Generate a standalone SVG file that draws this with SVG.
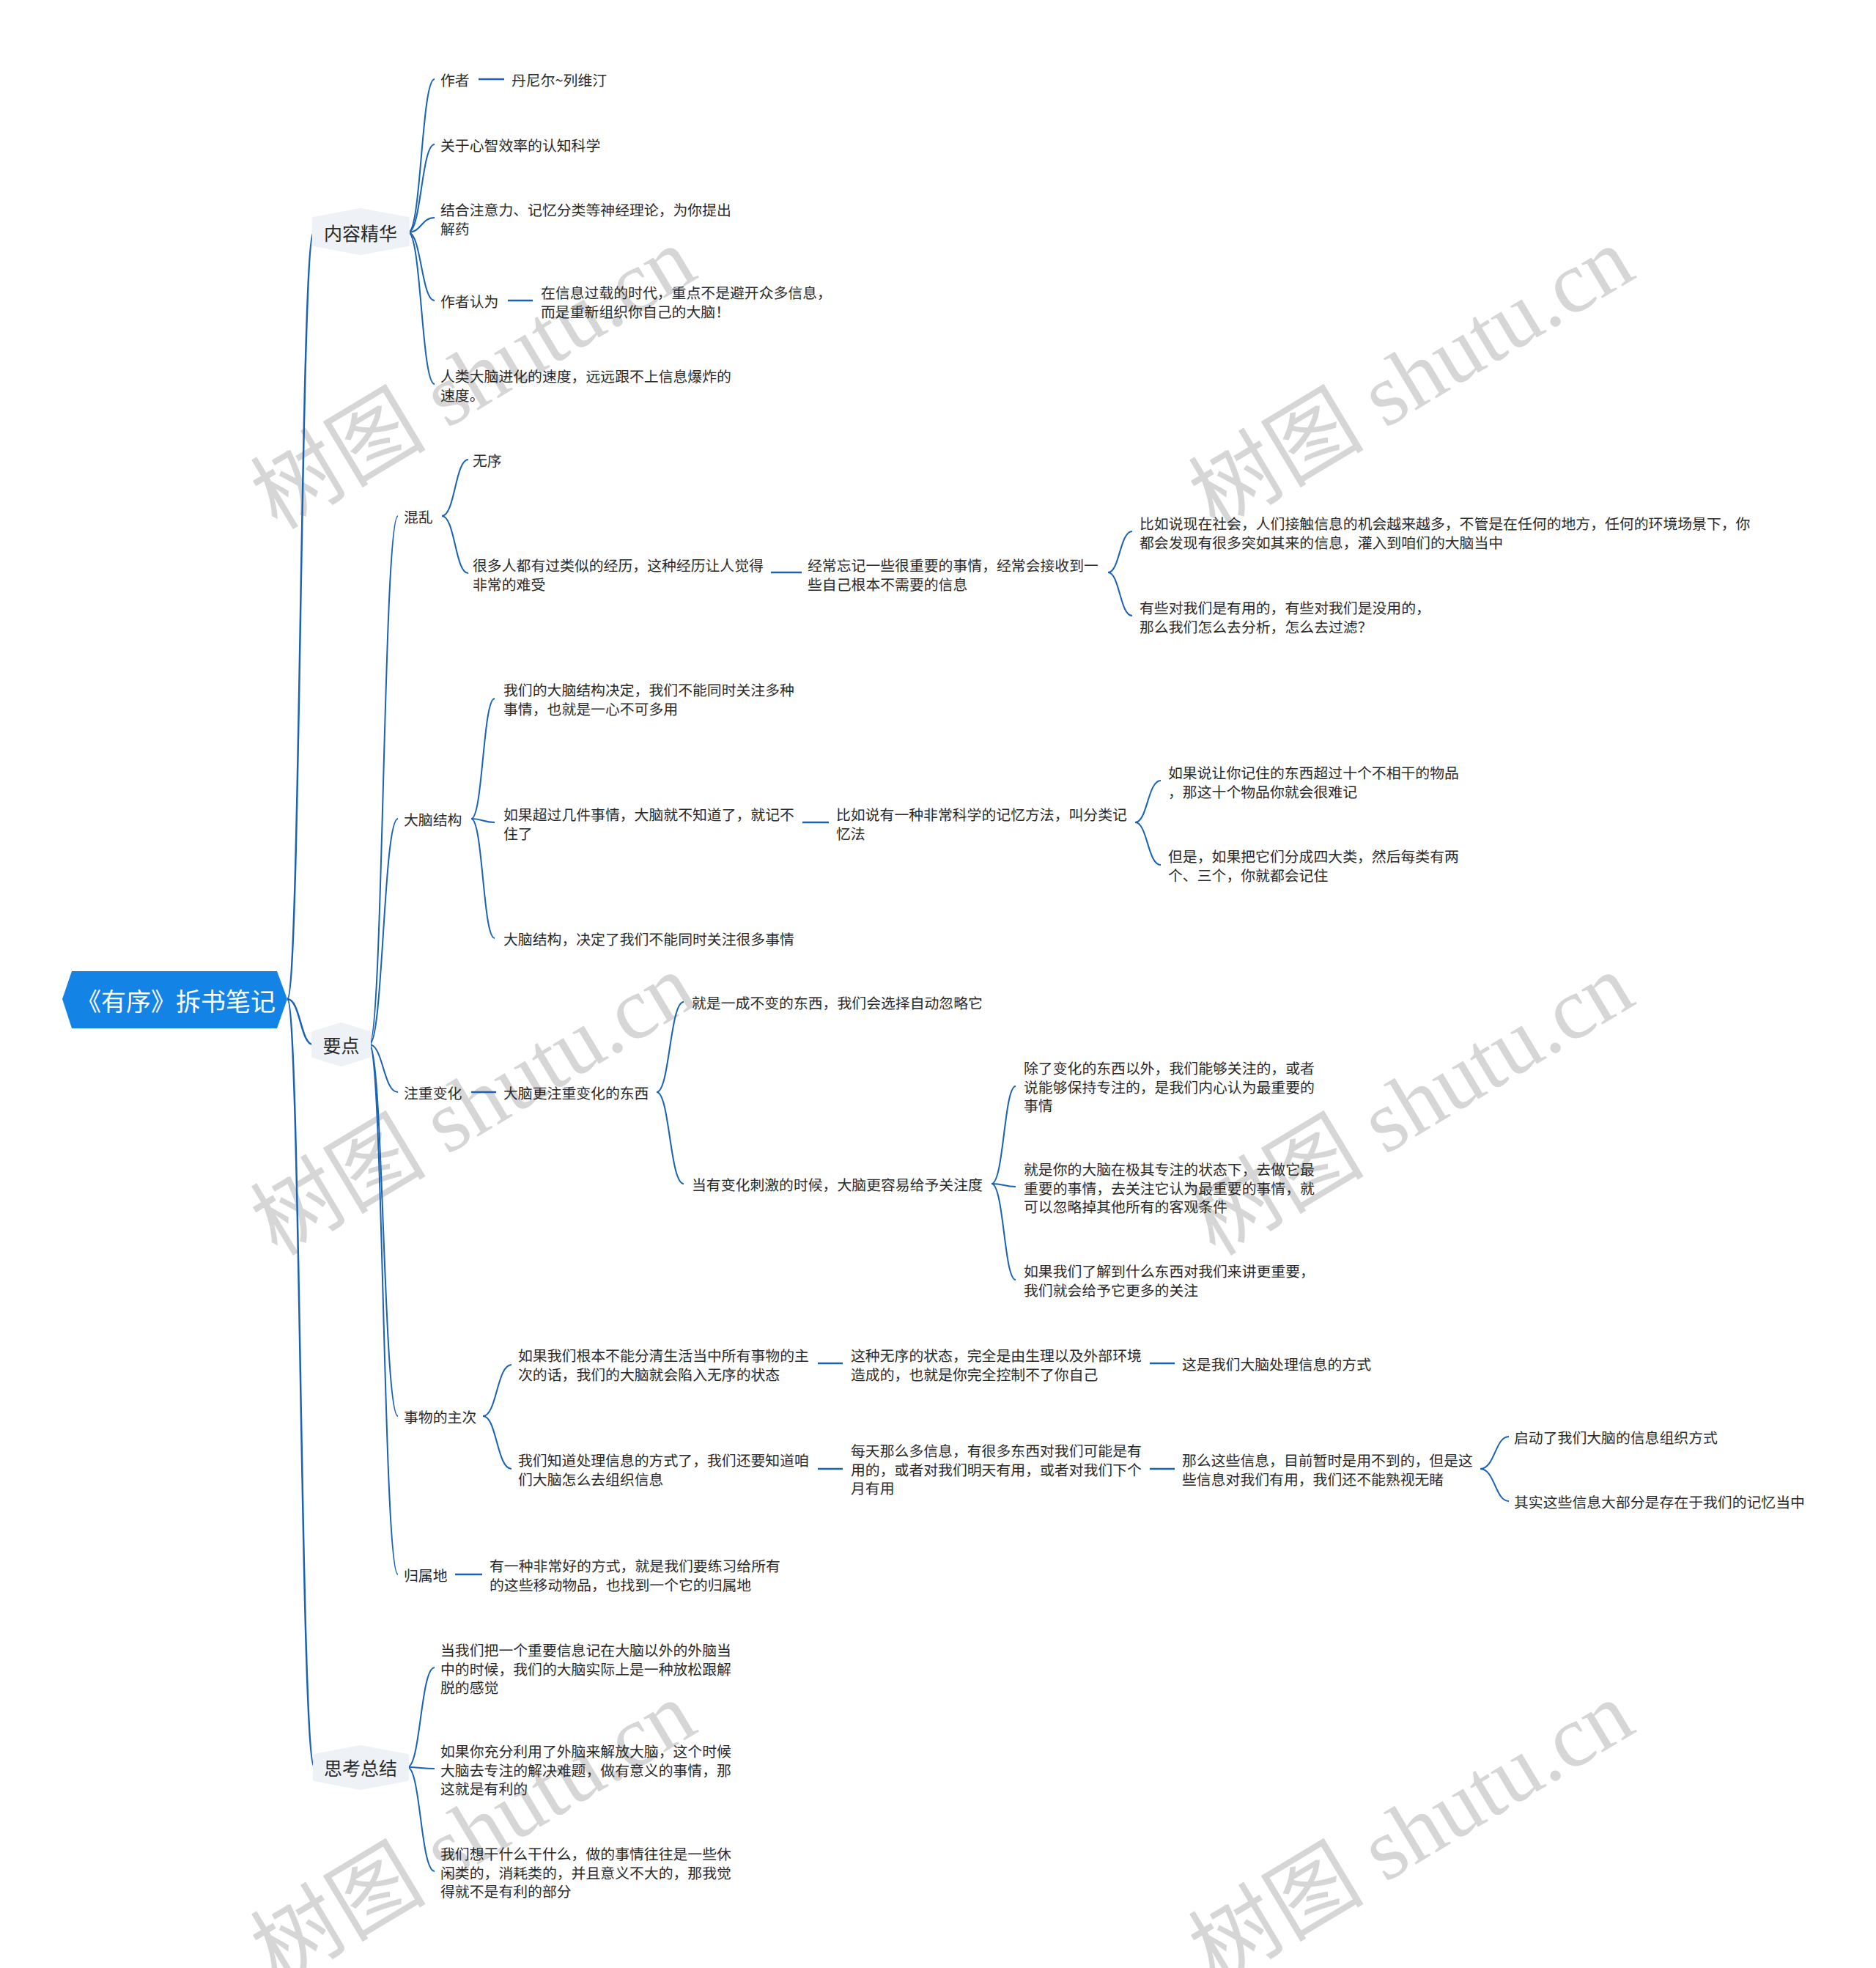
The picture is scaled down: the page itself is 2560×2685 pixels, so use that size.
<svg xmlns="http://www.w3.org/2000/svg" width="2560" height="2685" viewBox="0 0 2560 2685">
<style>
.t{font-family:"Noto Sans CJK SC","Noto Sans",sans-serif;font-size:19.85px;fill:#2a2a2a;dominant-baseline:central}
.m{font-family:"Noto Sans CJK SC","Noto Sans",sans-serif;font-size:25px;fill:#2a2a2a;dominant-baseline:central;text-anchor:middle}
.r{font-family:"Noto Sans CJK SC","Noto Sans",sans-serif;font-size:34px;fill:#ffffff;dominant-baseline:central;text-anchor:middle}
.hx{fill:#eef1f5;stroke:#eef1f5;stroke-width:4;stroke-linejoin:round}
.c{fill:none;stroke:#1a62b4;stroke-width:2}
.c0{fill:none;stroke:#1a62b4;stroke-width:2.5}
.h{fill:none;stroke:#1a62b4;stroke-width:2.5}
.wm{font-family:"Liberation Serif","Noto Sans CJK SC",serif;font-size:120px;fill:#c9c9c9;opacity:0.75}
</style>
<rect width="2560" height="2685" fill="#ffffff"/>
<g id="watermarks">
<text class="wm" text-anchor="middle" transform="translate(646,516) rotate(-31)" dominant-baseline="central">树图 shutu.cn</text>
<text class="wm" text-anchor="middle" transform="translate(1926,516) rotate(-31)" dominant-baseline="central">树图 shutu.cn</text>
<text class="wm" text-anchor="middle" transform="translate(646,1507) rotate(-31)" dominant-baseline="central">树图 shutu.cn</text>
<text class="wm" text-anchor="middle" transform="translate(1926,1507) rotate(-31)" dominant-baseline="central">树图 shutu.cn</text>
<text class="wm" text-anchor="middle" transform="translate(646,2500) rotate(-31)" dominant-baseline="central">树图 shutu.cn</text>
<text class="wm" text-anchor="middle" transform="translate(1926,2500) rotate(-31)" dominant-baseline="central">树图 shutu.cn</text>
</g>
<g id="connectors">
<path class="c0" d="M392 1363 C410 1363 410 317 428 317"/>
<path class="c0" d="M392 1363 C410 1363 410 1425 427 1425"/>
<path class="c0" d="M392 1363 C410 1363 410 2411 429 2411"/>
<path class="c" d="M557 317 C575 317 575 108 593 108"/>
<path class="c" d="M557 317 C575 317 575 197 593 197"/>
<path class="c" d="M557 317 C575 317 575 297 593 297"/>
<path class="c" d="M557 317 C575 317 575 410 593 410"/>
<path class="c" d="M557 317 C575 317 575 524 593 524"/>
<path class="c" d="M504 1425 C523 1425 523 704 543 704"/>
<path class="c" d="M504 1425 C523 1425 523 1117 543 1117"/>
<path class="c" d="M504 1425 C523 1425 523 1490 543 1490"/>
<path class="c" d="M504 1425 C523 1425 523 1932 543 1932"/>
<path class="c" d="M504 1425 C523 1425 523 2148 543 2148"/>
<path class="c" d="M556 2411 C574 2411 574 2275 593 2275"/>
<path class="c" d="M556 2411 C574 2411 574 2413 593 2413"/>
<path class="c" d="M556 2411 C574 2411 574 2553 593 2553"/>
<path class="c" d="M603 704 C621 704 621 627 639 627"/>
<path class="c" d="M603 704 C621 704 621 782 639 782"/>
<path class="c" d="M1512 781 C1528 781 1528 725 1545 725"/>
<path class="c" d="M1512 781 C1528 781 1528 840 1545 840"/>
<path class="c" d="M643 1117 C659 1117 659 953 675 953"/>
<path class="c" d="M643 1117 C659 1117 659 1122 675 1122"/>
<path class="c" d="M643 1117 C659 1117 659 1280 675 1280"/>
<path class="c" d="M1549 1122 C1566 1122 1566 1065 1584 1065"/>
<path class="c" d="M1549 1122 C1566 1122 1566 1180 1584 1180"/>
<path class="c" d="M896 1490 C914 1490 914 1367 933 1367"/>
<path class="c" d="M896 1490 C914 1490 914 1615 933 1615"/>
<path class="c" d="M1353 1615 C1370 1615 1370 1482 1386 1482"/>
<path class="c" d="M1353 1615 C1370 1615 1370 1619 1386 1619"/>
<path class="c" d="M1353 1615 C1370 1615 1370 1746 1386 1746"/>
<path class="c" d="M659 1932 C678 1932 678 1862 698 1862"/>
<path class="c" d="M659 1932 C678 1932 678 2004 698 2004"/>
<path class="c" d="M2020 2004 C2040 2004 2040 1960 2059 1960"/>
<path class="c" d="M2020 2004 C2040 2004 2040 2048 2059 2048"/>
<path class="h" d="M653 108 H688"/>
<path class="h" d="M693 410 H727"/>
<path class="h" d="M1052 781 H1094"/>
<path class="h" d="M1095 1122 H1131"/>
<path class="h" d="M643 1490 H677"/>
<path class="h" d="M1116 1860 H1150"/>
<path class="h" d="M1569 1860 H1603"/>
<path class="h" d="M1116 2004 H1150"/>
<path class="h" d="M1569 2004 H1603"/>
<path class="h" d="M621 2148 H658"/>
</g>
<g id="root">
<polygon points="85,1363 98,1325 378,1325 392,1363 378,1403 98,1403" fill="#1384e5"/>
<text class="r" x="240" y="1364">《有序》拆书笔记</text>
</g>
<g id="n-neirong">
<polygon class="hx" points="428,298 492,286 557,298 557,334 492,346 428,334"/>
<text class="m" x="492" y="317">内容精华</text>
</g>
<g id="n-yaodian">
<polygon class="hx" points="427,1409 465.5,1397 504,1409 504,1441 465.5,1453 427,1441"/>
<text class="m" x="465.5" y="1425">要点</text>
</g>
<g id="n-sikao">
<polygon class="hx" points="429,2395 492,2383 556,2395 556,2428 492,2440 429,2428"/>
<text class="m" x="492" y="2411">思考总结</text>
</g>
<g id="n-zuozhe"><text class="t" x="601" y="108">作者</text></g>
<g id="n-danier"><text class="t" x="698" y="108">丹尼尔~列维汀</text></g>
<g id="n-guanyu"><text class="t" x="601" y="197">关于心智效率的认知科学</text></g>
<g id="n-jiehe"><text class="t" x="601" y="285">结合注意力、记忆分类等神经理论，为你提出<tspan x="601" dy="25.5">解药</tspan></text></g>
<g id="n-zuozherenwei"><text class="t" x="601" y="410">作者认为</text></g>
<g id="n-zaixinxi"><text class="t" x="738" y="398">在信息过载的时代，重点不是避开众多信息，<tspan x="738" dy="25.5">而是重新组织你自己的大脑！</tspan></text></g>
<g id="n-renlei"><text class="t" x="601" y="512">人类大脑进化的速度，远远跟不上信息爆炸的<tspan x="601" dy="25.5">速度。</tspan></text></g>
<g id="n-hunluan"><text class="t" x="551" y="704">混乱</text></g>
<g id="n-wuxu"><text class="t" x="645" y="627">无序</text></g>
<g id="n-henduo"><text class="t" x="645" y="770">很多人都有过类似的经历，这种经历让人觉得<tspan x="645" dy="25.5">非常的难受</tspan></text></g>
<g id="n-jingchang"><text class="t" x="1102" y="770">经常忘记一些很重要的事情，经常会接收到一<tspan x="1102" dy="25.5">些自己根本不需要的信息</tspan></text></g>
<g id="n-biru1"><text class="t" x="1555" y="713">比如说现在社会，人们接触信息的机会越来越多，不管是在任何的地方，任何的环境场景下，你<tspan x="1555" dy="25.5">都会发现有很多突如其来的信息，灌入到咱们的大脑当中</tspan></text></g>
<g id="n-youxie"><text class="t" x="1555" y="828">有些对我们是有用的，有些对我们是没用的，<tspan x="1555" dy="25.5">那么我们怎么去分析，怎么去过滤？</tspan></text></g>
<g id="n-danaojiegou"><text class="t" x="551" y="1117">大脑结构</text></g>
<g id="n-women1"><text class="t" x="687" y="940">我们的大脑结构决定，我们不能同时关注多种<tspan x="687" dy="25.5">事情，也就是一心不可多用</tspan></text></g>
<g id="n-ruguo1"><text class="t" x="687" y="1110">如果超过几件事情，大脑就不知道了，就记不<tspan x="687" dy="25.5">住了</tspan></text></g>
<g id="n-biru2"><text class="t" x="1141" y="1110">比如说有一种非常科学的记忆方法，叫分类记<tspan x="1141" dy="25.5">忆法</tspan></text></g>
<g id="n-ruguo2"><text class="t" x="1594" y="1053">如果说让你记住的东西超过十个不相干的物品<tspan x="1594" dy="25.5">，那这十个物品你就会很难记</tspan></text></g>
<g id="n-danshi"><text class="t" x="1594" y="1167">但是，如果把它们分成四大类，然后每类有两<tspan x="1594" dy="25.5">个、三个，你就都会记住</tspan></text></g>
<g id="n-danao2"><text class="t" x="687" y="1280">大脑结构，决定了我们不能同时关注很多事情</text></g>
<g id="n-zhuzhong"><text class="t" x="551" y="1490">注重变化</text></g>
<g id="n-danaogeng"><text class="t" x="687" y="1490">大脑更注重变化的东西</text></g>
<g id="n-jiushi1"><text class="t" x="944" y="1367">就是一成不变的东西，我们会选择自动忽略它</text></g>
<g id="n-dangyou"><text class="t" x="944" y="1615">当有变化刺激的时候，大脑更容易给予关注度</text></g>
<g id="n-chule"><text class="t" x="1397" y="1456">除了变化的东西以外，我们能够关注的，或者<tspan x="1397" dy="25.5">说能够保持专注的，是我们内心认为最重要的</tspan><tspan x="1397" dy="25.5">事情</tspan></text></g>
<g id="n-jiushi2"><text class="t" x="1397" y="1594">就是你的大脑在极其专注的状态下，去做它最<tspan x="1397" dy="25.5">重要的事情，去关注它认为最重要的事情，就</tspan><tspan x="1397" dy="25.5">可以忽略掉其他所有的客观条件</tspan></text></g>
<g id="n-ruguo3"><text class="t" x="1397" y="1733">如果我们了解到什么东西对我们来讲更重要，<tspan x="1397" dy="25.5">我们就会给予它更多的关注</tspan></text></g>
<g id="n-shiwu"><text class="t" x="551" y="1932">事物的主次</text></g>
<g id="n-ruguo4"><text class="t" x="707" y="1848">如果我们根本不能分清生活当中所有事物的主<tspan x="707" dy="25.5">次的话，我们的大脑就会陷入无序的状态</tspan></text></g>
<g id="n-zhezhong"><text class="t" x="1161" y="1848">这种无序的状态，完全是由生理以及外部环境<tspan x="1161" dy="25.5">造成的，也就是你完全控制不了你自己</tspan></text></g>
<g id="n-zheshi"><text class="t" x="1613" y="1860">这是我们大脑处理信息的方式</text></g>
<g id="n-womenzhidao"><text class="t" x="707" y="1991">我们知道处理信息的方式了，我们还要知道咱<tspan x="707" dy="25.5">们大脑怎么去组织信息</tspan></text></g>
<g id="n-meitian"><text class="t" x="1161" y="1978">每天那么多信息，有很多东西对我们可能是有<tspan x="1161" dy="25.5">用的，或者对我们明天有用，或者对我们下个</tspan><tspan x="1161" dy="25.5">月有用</tspan></text></g>
<g id="n-name"><text class="t" x="1613" y="1991">那么这些信息，目前暂时是用不到的，但是这<tspan x="1613" dy="25.5">些信息对我们有用，我们还不能熟视无睹</tspan></text></g>
<g id="n-qidong"><text class="t" x="2066" y="1960">启动了我们大脑的信息组织方式</text></g>
<g id="n-qishi"><text class="t" x="2066" y="2048">其实这些信息大部分是存在于我们的记忆当中</text></g>
<g id="n-guishudi"><text class="t" x="551" y="2148">归属地</text></g>
<g id="n-youyizhong"><text class="t" x="668" y="2135">有一种非常好的方式，就是我们要练习给所有<tspan x="668" dy="25.5">的这些移动物品，也找到一个它的归属地</tspan></text></g>
<g id="n-dangwomen"><text class="t" x="601" y="2250">当我们把一个重要信息记在大脑以外的外脑当<tspan x="601" dy="25.5">中的时候，我们的大脑实际上是一种放松跟解</tspan><tspan x="601" dy="25.5">脱的感觉</tspan></text></g>
<g id="n-ruguoni"><text class="t" x="601" y="2388">如果你充分利用了外脑来解放大脑，这个时候<tspan x="601" dy="25.5">大脑去专注的解决难题，做有意义的事情，那</tspan><tspan x="601" dy="25.5">这就是有利的</tspan></text></g>
<g id="n-womenxiang"><text class="t" x="601" y="2528">我们想干什么干什么，做的事情往往是一些休<tspan x="601" dy="25.5">闲类的，消耗类的，并且意义不大的，那我觉</tspan><tspan x="601" dy="25.5">得就不是有利的部分</tspan></text></g>
</svg>
